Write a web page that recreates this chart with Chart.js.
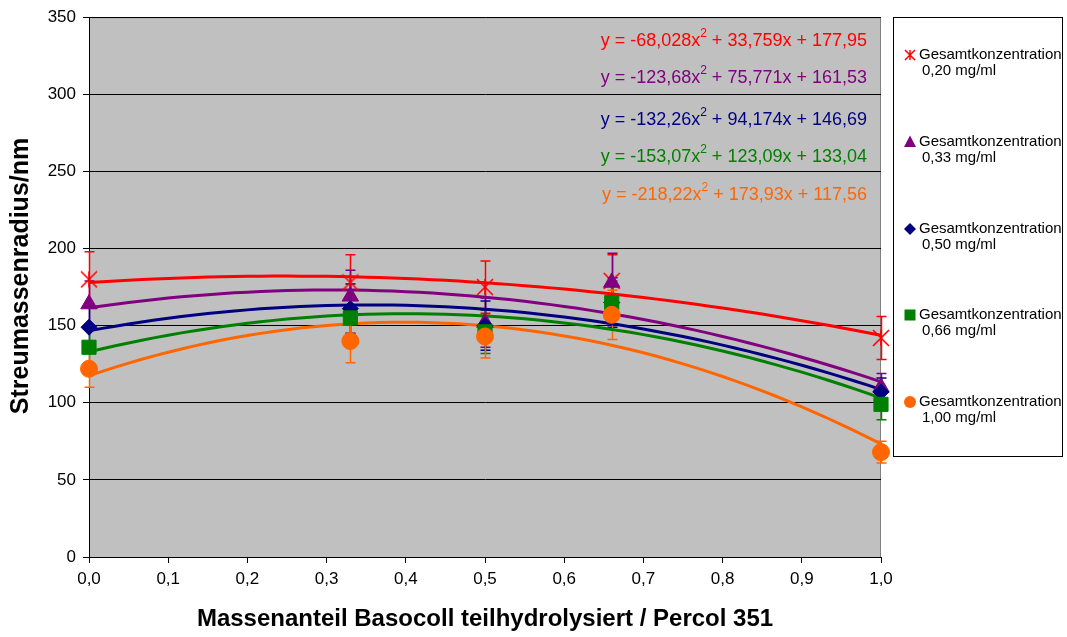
<!DOCTYPE html>
<html>
<head>
<meta charset="utf-8">
<title>Streumassenradius</title>
<script src="https://cdn.jsdelivr.net/npm/chart.js@4.4.1/dist/chart.umd.min.js"></script>
<style>
    html, body { margin: 0; padding: 0; background: #fff; }
    #streuChart { display: block; }
</style>
</head>
<body>
<canvas id="streuChart" width="1067" height="637"></canvas>
<script>
// Streumassenradius über Massenanteil Basocoll teilhydrolysiert / Percol 351

const massenanteil = [0, 0.33, 0.5, 0.66, 1.0];

// Messwerte je Gesamtkonzentration (nm)
const radius020 = [180, 178, 175, 179, 142];
const radius033 = [164, 169, 152, 178, 110];
const radius050 = [149, 161, 150, 165, 107];
const radius066 = [136, 155, 146, 165, 99];
const radius100 = [122, 140, 143, 157, 68];

// Fehlerbalken (+/- nm)
const fehler020 = [18, 18, 17, 17, 14];
const fehler033 = [15, 17, 16, 19, 9];
const fehler050 = [14, 16, 16, 16, 9];
const fehler066 = [12, 14, 14, 14, 10];
const fehler100 = [12, 14, 14, 16, 7];

// Polynomische Trendlinien: y = a*x^2 + b*x + c
const trend020 = [-68.028, 33.759, 177.95];
const trend033 = [-123.68, 75.771, 161.53];
const trend050 = [-132.26, 94.174, 146.69];
const trend066 = [-153.07, 123.09, 133.04];
const trend100 = [-218.22, 173.93, 117.56];

const konzentrationen = ['0,20 mg/ml', '0,33 mg/ml', '0,50 mg/ml', '0,66 mg/ml', '1,00 mg/ml'];
const xTicks = [0, 0.1, 0.2, 0.3, 0.4, 0.5, 0.6, 0.7, 0.8, 0.9, 1.0];
const yTicks = [0, 50, 100, 150, 200, 250, 300, 350];

const farben = ['#ff0000', '#800080', '#000080', '#008000', '#ff6600'];
const symbole = ['stern', 'triangle', 'rectRot', 'rect', 'circle'];
const symbolRadius = [0, 9.5, 8, 10, 8.5];

const werte = [radius020, radius033, radius050, radius066, radius100];
const fehler = [fehler020, fehler033, fehler050, fehler066, fehler100];
const trends = [trend020, trend033, trend050, trend066, trend100];

// Excel-Stern: X mit senkrechtem Strich
function sternSymbol(size, color, lw) {
    const c = document.createElement('canvas');
    c.width = size; c.height = size;
    const g = c.getContext('2d');
    const m = size / 2, r = size / 2 - 1;
    g.strokeStyle = color;
    g.lineWidth = lw;
    g.beginPath();
    g.moveTo(m - r, m - r); g.lineTo(m + r, m + r);
    g.moveTo(m + r, m - r); g.lineTo(m - r, m + r);
    g.moveTo(m, m - r); g.lineTo(m, m + r);
    g.stroke();
    return c;
}

const sternGross = sternSymbol(18, farben[0], 1.6);
const sternKlein = sternSymbol(12, farben[0], 1.5);

function komma(v) {
    return String(v).replace('.', ',');
}

// Stützstellen für die Trendkurven
const kurvenX = [];
for (let i = 0; i <= 60; i++) kurvenX.push(i / 60);

const datasets = [];

trends.forEach(function(t, i) {
    datasets.push({
        label: 'Trend ' + konzentrationen[i],
        data: kurvenX.map(x => ({ x: x, y: t[0] * x * x + t[1] * x + t[2] })),
        showLine: true,
        borderColor: farben[i],
        borderWidth: 3,
        pointRadius: 0,
        tension: 0,
        order: 20 - i
    });
});

werte.forEach(function(w, i) {
    datasets.push({
        label: 'Gesamtkonzentration ' + konzentrationen[i],
        data: massenanteil.map((x, j) => ({ x: x, y: w[j] })),
        showLine: false,
        clip: false,
        pointStyle: symbole[i] === 'stern' ? sternGross : symbole[i],
        pointRadius: symbole[i] === 'stern' ? 9 : symbolRadius[i],
        backgroundColor: farben[i],
        borderColor: farben[i],
        borderWidth: 1,
        order: 5 - i
    });
});

// Plotfläche grau hinterlegen
const hintergrund = {
    id: 'hintergrund',
    beforeDraw(chart) {
        const { ctx, chartArea: a } = chart;
        ctx.save();
        ctx.fillStyle = '#c0c0c0';
        ctx.fillRect(a.left, a.top, a.right - a.left, a.bottom - a.top);
        ctx.strokeStyle = '#808080';
        ctx.lineWidth = 1;
        ctx.strokeRect(a.left + 0.5, a.top + 0.5, a.right - a.left - 1, a.bottom - a.top);
        ctx.restore();
    }
};

// Fehlerbalken hinter den Symbolen
const fehlerbalken = {
    id: 'fehlerbalken',
    beforeDatasetsDraw(chart) {
        const { ctx, scales: { x, y } } = chart;
        ctx.save();
        ctx.lineWidth = 1.5;
        werte.forEach(function(w, i) {
            ctx.strokeStyle = farben[i];
            massenanteil.forEach(function(m, j) {
                const px = Math.round(x.getPixelForValue(m)) + 0.5;
                const oben = y.getPixelForValue(w[j] + fehler[i][j]);
                const unten = y.getPixelForValue(w[j] - fehler[i][j]);
                ctx.beginPath();
                ctx.moveTo(px, oben); ctx.lineTo(px, unten);
                ctx.moveTo(px - 5, oben); ctx.lineTo(px + 5, oben);
                ctx.moveTo(px - 5, unten); ctx.lineTo(px + 5, unten);
                ctx.stroke();
            });
        });
        ctx.restore();
    }
};

// Gleichungen, Achsentitel links und Legende
const beschriftung = {
    id: 'beschriftung',
    afterDraw(chart) {
        const ctx = chart.ctx;
        ctx.save();

        // Trendlinien-Gleichungen
        const gleichungY = [41, 78, 120, 157, 195];
        trends.forEach(function(t, i) {
            const teil1 = 'y = ' + komma(t[0]) + 'x';
            const hoch = '2';
            const teil2 = ' + ' + komma(t[1]) + 'x + ' + komma(t[2]);
            ctx.font = '18px "Liberation Sans", Arial, sans-serif';
            const w1 = ctx.measureText(teil1).width;
            const w3 = ctx.measureText(teil2).width;
            ctx.font = '12px "Liberation Sans", Arial, sans-serif';
            const w2 = ctx.measureText(hoch).width;
            let xs = 867 - (w1 + w2 + w3);
            ctx.fillStyle = farben[i];
            ctx.textBaseline = 'middle';
            ctx.textAlign = 'left';
            ctx.font = '18px "Liberation Sans", Arial, sans-serif';
            ctx.fillText(teil1, xs, gleichungY[i]);
            ctx.font = '12px "Liberation Sans", Arial, sans-serif';
            ctx.fillText(hoch, xs + w1, gleichungY[i] - 7);
            ctx.font = '18px "Liberation Sans", Arial, sans-serif';
            ctx.fillText(teil2, xs + w1 + w2, gleichungY[i]);
        });

        // Y-Achsentitel
        ctx.fillStyle = '#000';
        ctx.font = 'bold 25px "Liberation Sans", Arial, sans-serif';
        ctx.textAlign = 'center';
        ctx.textBaseline = 'middle';
        ctx.translate(21, 276);
        ctx.rotate(-Math.PI / 2);
        ctx.fillText('Streumassenradius/nm', 0, 0);
        ctx.setTransform(1, 0, 0, 1, 0, 0);

        // Legende
        ctx.strokeStyle = '#000';
        ctx.lineWidth = 1;
        ctx.strokeRect(893.5, 17.5, 169, 439);
        const zeileY = [55, 142, 229, 315, 402];
        ctx.font = '15px "Liberation Sans", Arial, sans-serif';
        ctx.textAlign = 'left';
        zeileY.forEach(function(yy, i) {
            const mx = 910;
            ctx.fillStyle = farben[i];
            ctx.beginPath();
            if (symbole[i] === 'stern') {
                ctx.drawImage(sternKlein, mx - 6, yy - 6);
            } else if (symbole[i] === 'triangle') {
                ctx.moveTo(mx, yy - 6.5); ctx.lineTo(mx + 6, yy + 5); ctx.lineTo(mx - 6, yy + 5);
                ctx.closePath(); ctx.fill();
            } else if (symbole[i] === 'rectRot') {
                ctx.moveTo(mx, yy - 6); ctx.lineTo(mx + 6, yy); ctx.lineTo(mx, yy + 6); ctx.lineTo(mx - 6, yy);
                ctx.closePath(); ctx.fill();
            } else if (symbole[i] === 'rect') {
                ctx.fillRect(mx - 5.5, yy - 5.5, 11, 11);
            } else {
                ctx.arc(mx, yy, 6, 0, Math.PI * 2); ctx.fill();
            }
            ctx.fillStyle = '#000';
            ctx.fillText('Gesamtkonzentration', 919, yy);
            ctx.fillText(konzentrationen[i], 922, yy + 16);
        });
        ctx.restore();
    }
};

Chart.defaults.font.family = '"Liberation Sans", Arial, sans-serif';

new Chart(document.getElementById('streuChart'), {
    type: 'scatter',
    data: { datasets: datasets },
    options: {
        responsive: false,
        animation: false,
        events: [],
        layout: { padding: { left: 0, right: 186, top: 17, bottom: 0 } },
        scales: {
            x: {
                type: 'linear',
                min: 0,
                max: 1,
                afterBuildTicks(scale) { scale.ticks = xTicks.map(v => ({ value: v })); },
                afterFit(scale) { scale.height = 80; },
                border: { color: '#000', width: 1 },
                grid: { drawOnChartArea: false, drawTicks: true, tickLength: 6, color: '#000' },
                ticks: {
                    color: '#000',
                    font: { size: 17 },
                    padding: 6,
                    maxRotation: 0,
                    callback: v => v.toFixed(1).replace('.', ',')
                },
                title: {
                    display: true,
                    text: 'Massenanteil Basocoll teilhydrolysiert / Percol 351',
                    color: '#000',
                    font: { size: 24, weight: 'bold' },
                    padding: { top: 0, bottom: 3 }
                }
            },
            y: {
                min: 0,
                max: 350,
                afterBuildTicks(scale) { scale.ticks = yTicks.map(v => ({ value: v })); },
                afterFit(scale) { scale.width = 89; },
                border: { color: '#000', width: 1 },
                grid: { color: '#000', lineWidth: 1, tickLength: 6 },
                ticks: { color: '#000', font: { size: 17 }, padding: 7 }
            }
        },
        plugins: {
            legend: { display: false },
            tooltip: { enabled: false }
        }
    },
    plugins: [hintergrund, fehlerbalken, beschriftung]
});
</script>
</body>
</html>
